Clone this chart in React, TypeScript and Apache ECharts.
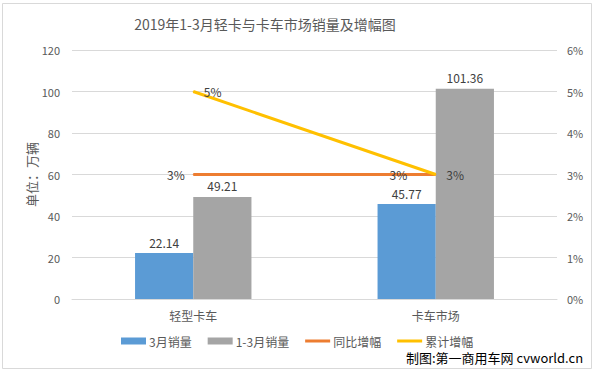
import React, { useEffect, useRef } from "react";
import * as echarts from "echarts";

const categories = ["轻型卡车", "卡车市场"];
const marchSales = [22.14, 45.77];
const q1Sales = [49.21, 101.36];
const yoyGrowth = [3, 3];
const cumGrowth = [5, 3];
const yoyLabelDistance = [8, 28];
const leftTicks = { min: 0, max: 120, interval: 20 };
const rightTicks = { min: 0, max: 6, interval: 1 };

const FONT = "'Noto Sans CJK SC', 'Noto Sans', sans-serif";
const LINE_ICON = "path://M0 0H25V3H0Z";

export default function App() {
  const ref = useRef<HTMLDivElement>(null);
  useEffect(() => {
    if (!ref.current) return;
    const chart = echarts.init(ref.current, undefined, { renderer: "svg" });
    chart.setOption({
      animation: false,
      backgroundColor: "#ffffff",
      textStyle: { fontFamily: FONT },
      title: {
        text: "2019年1-3月轻卡与卡车市场销量及增幅图",
        left: 260,
        textAlign: "center",
        top: 12,
        textStyle: { fontSize: 14, fontWeight: "normal", color: "#595959", fontFamily: FONT },
      },
      grid: { left: 72, right: 39, top: 50, bottom: 76 },
      legend: {
        left: 116,
        top: 330,
        itemWidth: 25,
        itemHeight: 7,
        itemGap: 16,
        textStyle: { fontSize: 12, color: "#595959", fontFamily: FONT, padding: [0, 0, 0, -2] },
        data: [
          { name: "3月销量", icon: "rect" },
          { name: "1-3月销量", icon: "rect" },
          { name: "同比增幅", icon: LINE_ICON },
          { name: "累计增幅", icon: LINE_ICON },
        ],
      },
      xAxis: {
        type: "category",
        data: categories,
        axisLine: { lineStyle: { color: "#d9d9d9" } },
        axisTick: { show: false },
        axisLabel: { color: "#595959", fontSize: 12, margin: 10, fontFamily: FONT },
      },
      yAxis: [
        {
          type: "value",
          min: leftTicks.min,
          max: leftTicks.max,
          interval: leftTicks.interval,
          name: "单位：万辆",
          nameLocation: "middle",
          nameGap: 34,
          nameRotate: 90,
          nameMoveOverlap: false,
          nameTextStyle: { color: "#595959", fontSize: 13, fontFamily: FONT },
          axisLine: { show: false },
          axisTick: { show: false },
          axisLabel: { color: "#595959", fontSize: 11, margin: 12 },
          splitLine: { lineStyle: { color: "#d9d9d9" } },
        },
        {
          type: "value",
          min: rightTicks.min,
          max: rightTicks.max,
          interval: rightTicks.interval,
          axisLine: { show: false },
          axisTick: { show: false },
          axisLabel: { color: "#595959", fontSize: 11, margin: 10, formatter: "{value}%" },
          splitLine: { show: false },
        },
      ],
      series: [
        {
          name: "3月销量",
          type: "bar",
          data: marchSales,
          barGap: "0%",
          barCategoryGap: "52%",
          itemStyle: { color: "#5B9BD5" },
          label: { show: true, position: "top", distance: 5, color: "#404040", fontSize: 12 },
        },
        {
          name: "1-3月销量",
          type: "bar",
          data: q1Sales,
          barGap: "0%",
          barCategoryGap: "52%",
          itemStyle: { color: "#A5A5A5" },
          label: { show: true, position: "top", distance: 5, color: "#404040", fontSize: 12 },
        },
        {
          name: "同比增幅",
          type: "line",
          yAxisIndex: 1,
          data: yoyGrowth.map((v, i) => ({ value: v, label: { distance: yoyLabelDistance[i] } })),
          symbol: "circle",
          symbolSize: 1,
          showSymbol: true,
          itemStyle: { color: "#ED7D31" },
          lineStyle: { color: "#ED7D31", width: 3 },
          label: { show: true, position: "left", color: "#404040", fontSize: 12, formatter: "{c}%" },
          z: 3,
        },
        {
          name: "累计增幅",
          type: "line",
          yAxisIndex: 1,
          data: cumGrowth,
          symbol: "circle",
          symbolSize: 1,
          showSymbol: true,
          itemStyle: { color: "#FFC000" },
          lineStyle: { color: "#FFC000", width: 3 },
          label: { show: true, position: "right", distance: 10, color: "#404040", fontSize: 12, formatter: "{c}%" },
          z: 4,
        },
      ],
      graphic: [
        {
          type: "rect",
          shape: { x: 2.5, y: 3.5, width: 589, height: 365 },
          style: { fill: "none", stroke: "#d9d9d9", lineWidth: 1 },
          silent: true,
        },
        {
          type: "text",
          x: 406,
          y: 351,
          style: {
            text: "制图:第一商用车网 cvworld.cn",
            fill: "#000000",
            font: "13px 'Noto Sans CJK SC', sans-serif",
          },
          silent: true,
        },
      ],
    });
    return () => chart.dispose();
  }, []);
  return (
    <div
      ref={ref}
      style={{ position: "fixed", left: 0, top: 0, width: 596, height: 375 }}
    />
  );
}
